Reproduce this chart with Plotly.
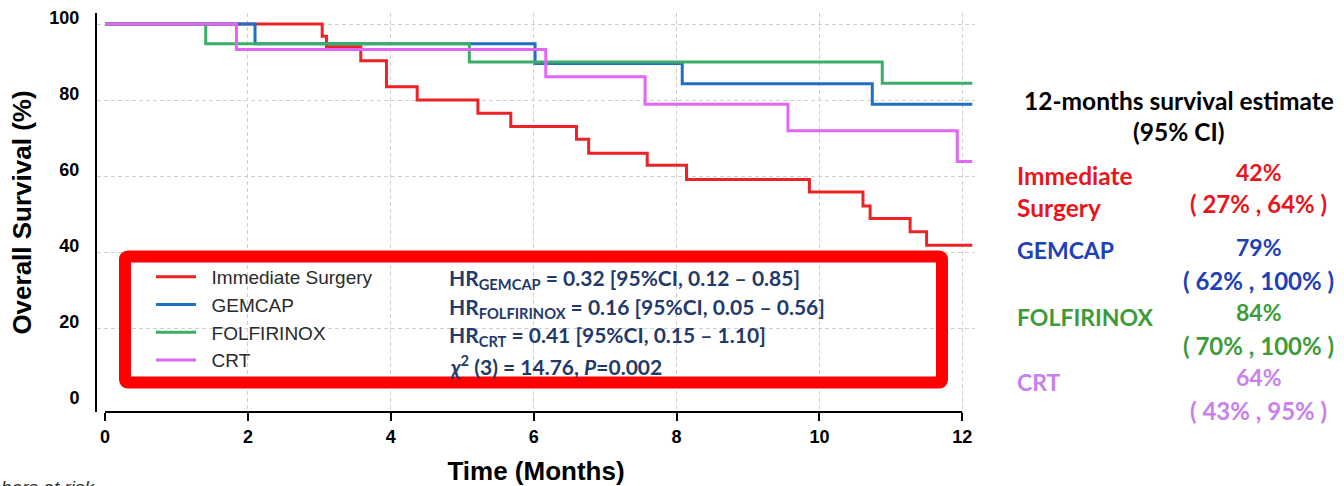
import plotly.graph_objects as go

# ---- data ----
groups = ["Immediate Surgery", "GEMCAP", "FOLFIRINOX", "CRT"]
colors = ["#EC2227", "#1F6FC5", "#3DAE68", "#E066F5"]

t_surgery = [0, 3.04, 3.10, 3.58, 3.94, 4.37, 5.22, 5.68, 6.60, 6.77, 7.59, 8.14, 9.86, 10.61, 10.71, 11.27, 11.50, 12.14]
s_surgery = [100, 96.8, 94.0, 90.3, 83.5, 80.0, 76.5, 73.0, 69.7, 66.0, 62.8, 59.1, 55.8, 52.1, 48.8, 45.3, 41.8, 41.8]

t_gemcap = [0, 2.10, 6.02, 8.08, 10.74, 12.14]
s_gemcap = [100, 94.8, 89.6, 84.3, 78.9, 78.9]

t_folfirinox = [0, 1.41, 5.10, 10.88, 12.14]
s_folfirinox = [100, 94.8, 90.0, 84.4, 84.4]

t_crt = [0, 1.84, 6.17, 7.56, 9.56, 11.93, 12.14]
s_crt = [100, 93.3, 86.1, 78.9, 71.9, 63.8, 63.8]

x_ticks = [0, 2, 4, 6, 8, 10, 12]
y_ticks = [0, 20, 40, 60, 80, 100]

hr_lines = [
    "HR<sub>GEMCAP</sub> = 0.32 [95%CI, 0.12 – 0.85]",
    "HR<sub>FOLFIRINOX</sub> = 0.16 [95%CI, 0.05 – 0.56]",
    "HR<sub>CRT</sub> = 0.41 [95%CI, 0.15 – 1.10]",
    "<i>χ</i><sup>2</sup> (3) = 14.76, <i>P</i>=0.002",
]

est_labels = [["Immediate", "Surgery"], ["GEMCAP"], ["FOLFIRINOX"], ["CRT"]]
est_values = ["42%", "79%", "84%", "64%"]
est_ci = ["( 27% , 64% )", "( 62% , 100% )", "( 70% , 100% )", "( 43% , 95% )"]
est_colors = ["#E8161C", "#2040B8", "#3D9A3D", "#C880EE"]

# ---- layout geometry (pixels) ----
W, H = 1344, 486
L, R, T, B = 97, 975, 13, 412
PW, PH = R - L, B - T


def px(x):
    return (x - L) / PW


def py(y):
    return (B - y) / PH


fig = go.Figure()
series = [(t_surgery, s_surgery), (t_gemcap, s_gemcap), (t_folfirinox, s_folfirinox), (t_crt, s_crt)]
for name, col, (t, s) in zip(groups, colors, series):
    fig.add_trace(go.Scatter(x=t, y=s, mode="lines", name="\u00a0\u00a0" + name, legendgroup=name,
                             line=dict(color=col, width=3, shape="hv")))

axis_font = dict(family="Liberation Sans, Arial", size=18, color="black", weight="bold")
title_font = dict(family="Liberation Sans, Arial", size=26, color="black", weight="bold")

fig.update_layout(
    width=W, height=H,
    margin=dict(l=L, r=W - R, t=T, b=H - B, pad=0),
    plot_bgcolor="white", paper_bgcolor="white",
    showlegend=True,
    legend=dict(x=px(151), y=py(258), xanchor="left", yanchor="top",
                bgcolor="rgba(0,0,0,0)", tracegroupgap=0, itemwidth=40,
                font=dict(family="Liberation Sans, Arial", size=19, color="#2a2a2a")),
    xaxis=dict(range=[(L - 105) / 71.44, (R - 105) / 71.44], tickvals=x_ticks, automargin=False,
               showgrid=False, zeroline=False, showline=False,
               ticks="outside", ticklen=8, tickwidth=2, tickcolor="black",
               tickfont=axis_font,
               minor=dict(tickvals=x_ticks[1:], showgrid=True, gridcolor="#cfcfcf",
                          griddash="4px,3px", gridwidth=1),
               title=dict(text="Time (Months)", font=title_font, standoff=22)),
    yaxis=dict(range=[-(412 - 404) / 3.8, (404 - T) / 3.8], tickvals=y_ticks, automargin=False,
               showgrid=False, zeroline=False, showline=True, linecolor="black", linewidth=2,
               ticks="", tickfont=axis_font, ticklabelstandoff=12, ticklabelshift=-6,
               minor=dict(tickvals=y_ticks[1:], showgrid=True, gridcolor="#cfcfcf",
                          griddash="4px,3px", gridwidth=1),
               title=dict(text="Overall Survival (%)", font=title_font, standoff=10)),
)

# x-axis line spanning only 0..12
fig.add_shape(type="line", xref="x", yref="paper", x0=x_ticks[0], x1=x_ticks[-1], y0=0, y1=0,
              line=dict(color="black", width=2), layer="above")

# red rounded box around legend + stats
x0, x1, y0, y1 = px(125), px(942), py(256.5), py(382.5)
rx, ry = 3 / PW, 3 / PH
path = (f"M{x0 + rx},{y0} L{x1 - rx},{y0} Q{x1},{y0} {x1},{y0 - ry} "
        f"L{x1},{y1 + ry} Q{x1},{y1} {x1 - rx},{y1} L{x0 + rx},{y1} Q{x0},{y1} {x0},{y1 + ry} "
        f"L{x0},{y0 - ry} Q{x0},{y0} {x0 + rx},{y0} Z")
fig.add_shape(type="path", xref="paper", yref="paper", path=path,
              line=dict(color="#FF0000", width=12), layer="above")

hr_font = dict(family="Lato, Open Sans", size=21, color="#1F3A6B", weight="bold")
for i, line in enumerate(hr_lines):
    fig.add_annotation(xref="paper", yref="paper", x=px(447), y=py(279 + 28.5 * i),
                       xanchor="left", yanchor="middle", showarrow=False, text=line, font=hr_font)

# right-hand panel
head_font = dict(family="Lato, Open Sans", size=24.5, color="black", weight="bold")
fig.add_annotation(xref="paper", yref="paper", x=px(1179), y=py(100), xanchor="center", yanchor="middle",
                   showarrow=False, text="12-months survival estimate", font=head_font)
fig.add_annotation(xref="paper", yref="paper", x=px(1178), y=py(131.5), xanchor="center", yanchor="middle",
                   showarrow=False, text="(95% CI)", font=head_font)

label_y = [[175, 207], [250], [317], [382]]
value_y = [172, 247, 312, 377]
ci_y = [203, 280, 345, 410]
for labs, ly, val, vy, ci, cy, col in zip(est_labels, label_y, est_values, value_y, est_ci, ci_y, est_colors):
    for lab, yy in zip(labs, ly):
        size = 23 if lab.isupper() else 24.5
        fig.add_annotation(xref="paper", yref="paper", x=px(1015), y=py(yy), xanchor="left", yanchor="middle",
                           showarrow=False, text=lab,
                           font=dict(family="Lato, Open Sans", size=size, color=col, weight="bold"))
    fig.add_annotation(xref="paper", yref="paper", x=px(1259), y=py(vy), xanchor="center", yanchor="middle",
                       showarrow=False, text=val,
                       font=dict(family="Lato, Open Sans", size=23, color=col, weight="bold"))
    fig.add_annotation(xref="paper", yref="paper", x=px(1258), y=py(cy), xanchor="center", yanchor="middle",
                       showarrow=False, text=ci,
                       font=dict(family="Lato, Open Sans", size=24, color=col, weight="bold"))

# partially visible "Numbers at risk" caption at bottom-left
fig.add_annotation(xref="paper", yref="paper", x=px(-41), y=py(487), xanchor="left", yanchor="middle",
                   showarrow=False, text="<i>Numbers at risk</i>",
                   font=dict(family="Liberation Sans, Arial", size=19, color="#333333"))

fig.write_html("out.html", config={"displayModeBar": False},
               post_script="document.body.style.margin='0';")
